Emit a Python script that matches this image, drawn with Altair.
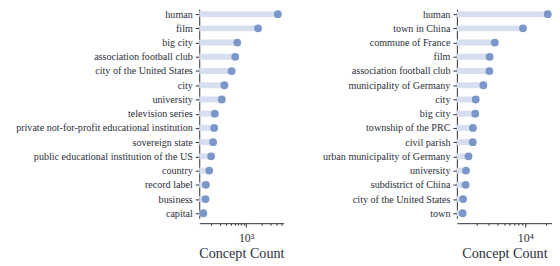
import altair as alt
import pandas as pd

left_labels = ["human", "film", "big city", "association football club",
               "city of the United States", "city", "university",
               "television series",
               "private not-for-profit educational institution",
               "sovereign state", "public educational institution of the US",
               "country", "record label", "business", "capital"]
left_counts = [4240, 1720, 667, 609, 517, 371, 330, 240, 233, 222, 203, 186,
               160, 157, 142]

right_labels = ["human", "town in China", "commune of France", "film",
                "association football club", "municipality of Germany",
                "city", "big city", "township of the PRC", "civil parish",
                "urban municipality of Germany", "university",
                "subdistrict of China", "city of the United States", "town"]
right_counts = [21100, 9270, 3640, 3060, 3040, 2490, 1930, 1900, 1760, 1750,
                1520, 1400, 1380, 1270, 1250]

left_domain = [118, 5480]
right_domain = [1033, 24300]
left_ticks = [200, 300, 400, 500, 600, 700, 800, 900, 1000, 2000, 3000, 4000, 5000]
right_ticks = [2000, 3000, 4000, 5000, 6000, 7000, 8000, 9000, 10000, 20000]

FONT = "Liberation Serif"
INK = "#2b2f3a"
DOT = "#7b96c9"
STEM = "#d7deef"


def panel(labels, counts, domain, ticks, major, major_label, width):
    df = pd.DataFrame({"concept": labels, "count": counts})
    x = alt.X("count:Q",
              scale=alt.Scale(type="log", domain=domain, nice=False),
              axis=alt.Axis(values=ticks,
                            labelExpr=f"datum.value == {major} ? '{major_label}' : ''",
                            tickSize={"condition": {"test": f"datum.value == {major}", "value": 4},
                                      "value": 2},
                            grid=False, offset=5, title="Concept Count",
                            labelPadding=5, titlePadding=4,
                            labelFontSize=12, titleFontSize=14.3))
    y = alt.Y("concept:N", sort=labels,
              scale=alt.Scale(type="point", padding=0.35),
              axis=alt.Axis(title=None, tickSize=4, labelPadding=3,
                            labelFontSize=10.2, grid=False))
    base = alt.Chart(df)
    stems = base.mark_rule(strokeWidth=6, color=STEM).encode(
        x=x, x2=alt.value(0), y=y)
    dots = base.mark_circle(size=62, color=DOT, opacity=1).encode(x=x, y=y)
    return (stems + dots).properties(width=width, height=211)


left = panel(left_labels, left_counts, left_domain, left_ticks, 1000, "10³", 85)
right = panel(right_labels, right_counts, right_domain, right_ticks, 10000, "10⁴", 96)

chart = alt.hconcat(left, right, spacing=38).properties(
    padding={"left": 7, "top": 0, "right": 0, "bottom": 0},
    background="white",
).configure_view(stroke=None).configure_axis(
    labelFont=FONT, titleFont=FONT, labelColor=INK, titleColor=INK,
    domainColor=INK, tickColor=INK, titleFontWeight="normal",
    domainWidth=1, tickWidth=1,
)

chart.save("out.html", embed_options={"renderer": "svg", "actions": False})
